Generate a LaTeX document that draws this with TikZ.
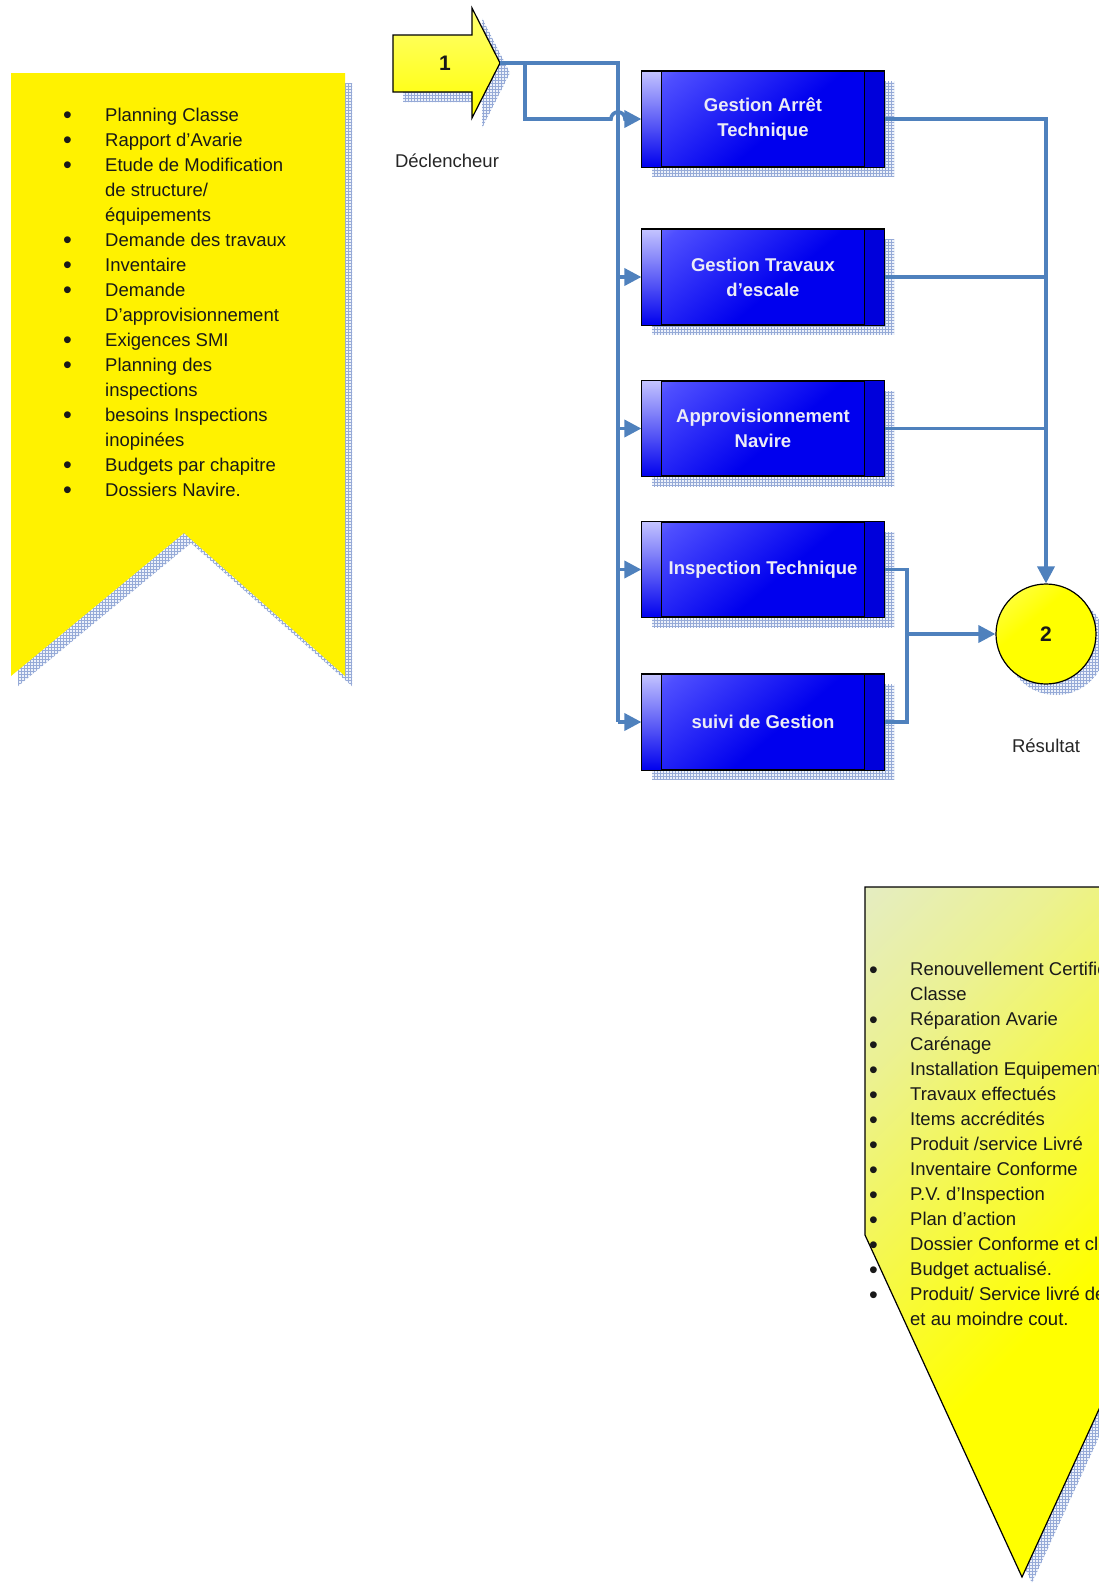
\documentclass[tikz,border=0pt]{standalone}
\usepackage{fontspec}
\setmainfont{Liberation Sans}
\usetikzlibrary{arrows.meta,patterns,calc}

\definecolor{flowblue}{RGB}{79,129,189}
\definecolor{hatchline}{RGB}{150,170,215}
\definecolor{hatchbg}{RGB}{236,241,250}
\definecolor{boxblue}{RGB}{0,0,238}
\definecolor{boxlight}{RGB}{196,196,255}
\definecolor{paleblue}{RGB}{222,232,244}
\definecolor{boxtext}{RGB}{236,236,246}

\pgfdeclareverticalshading{boxshade}{100bp}{color(0bp)=(boxblue); color(45bp)=(boxblue); color(78bp)=(blue!60!boxlight); color(100bp)=(boxlight)}
\pgfdeclareverticalshading{outshade}{100bp}{color(0bp)=(yellow); color(42bp)=(yellow); color(72bp)=(yellow!40!paleblue); color(100bp)=(paleblue)}
\pgfdeclareverticalshading{ballshade}{100bp}{color(0bp)=(yellow); color(60bp)=(yellow); color(100bp)=(yellow!45!white)}

\newcommand\diagfont{\fontsize{18.5}{25}\selectfont}
\newcommand\bigdigit{\fontsize{21}{25}\selectfont\bfseries}
\newcommand\dotmark{\raisebox{-2.6pt}{\fontsize{25}{25}\selectfont\textbullet}}

\tikzset{
  conn/.style={draw=flowblue, line width=3.6pt},
  flow/.style={conn, -{Triangle[length=17pt,width=17pt]}},
  hatched/.style={preaction={fill=hatchbg}, pattern=grid, pattern color=hatchline},
  procbox/.style={rectangle, draw=black, line width=1.2pt, minimum width=242pt,
    minimum height=95pt, inner sep=0pt, shading=boxshade, shading angle=40,
    text=boxtext, font=\diagfont\bfseries, align=center},
  caption/.style={font=\diagfont, text=black!85, inner sep=0pt},
  listbox/.style={anchor=north west, inner sep=0pt, font=\diagfont, text=black!90},
}

\begin{document}
\begin{tikzpicture}[x=1pt,y=-1pt]
  \path[use as bounding box] (0,0) rectangle (1099,1583);
  \clip (0,0) rectangle (1099,1583);
  \fill[white] (0,0) rectangle (1099,1583);

  % input banner with notched bottom
  \fill[hatched] (18,83) -- (352,83) -- (352,686) -- (191,543) -- (18,686) -- cycle;
  \fill[yellow] (11,73) -- (345,73) -- (345,676) -- (184,533) -- (11,676) -- cycle;
  \node[listbox] (inputs) at (63,103.5) {%
    \begin{tabular}{@{}p{42pt}@{}l@{}}
      \dotmark & Planning Classe\\
      \dotmark & Rapport d’Avarie\\
      \dotmark & Etude de Modification\\
               & de structure/\\
               & équipements\\
      \dotmark & Demande des travaux\\
      \dotmark & Inventaire\\
      \dotmark & Demande\\
               & D’approvisionnement\\
      \dotmark & Exigences SMI\\
      \dotmark & Planning des\\
               & inspections\\
      \dotmark & besoins Inspections\\
               & inopinées\\
      \dotmark & Budgets par chapitre\\
      \dotmark & Dossiers Navire.
    \end{tabular}};

  % trigger arrow
  \fill[hatched] (403,45) -- (482,45) -- (482,18) -- (510,73) -- (482,128) -- (482,102) -- (403,102) -- cycle;
  \shade[top color=yellow!55!white, bottom color=yellow, draw=black, line width=1.2pt]
    (393,35) -- (472,35) -- (472,8) -- (500,63) -- (472,118) -- (472,92) -- (393,92) -- cycle;
  \node[inner sep=0pt, text=black!90] (trig) at (445,63) {\bigdigit 1};
  \coordinate (a1tip) at (500,63);
  \node[caption] (trigcap) at (447,161) {Déclencheur};

  % process boxes: shadows first
  \foreach \cy in {119,277,428.5,569.5,722}
    \fill[hatched] (652,\cy-37.5) rectangle (894,\cy+57.5);

  \node[procbox] (b1) at (763,119)   {Gestion Arrêt\\Technique};
  \node[procbox] (b2) at (763,277)   {Gestion Travaux\\d’escale};
  \node[procbox] (b3) at (763,428.5) {Approvisionnement\\Navire};
  \node[procbox] (b4) at (763,569.5) {Inspection Technique};
  \node[procbox] (b5) at (763,722)   {suivi de Gestion};

  \foreach \n in {b1,b2,b3,b4,b5} {
    \shade[top color=boxlight, bottom color=boxblue] (\n.north west) rectangle ($(\n.south west)+(20,0)$);
    \fill[boxblue!92!black] ($(\n.north east)+(-20,0)$) rectangle (\n.south east);
    \draw[line width=1pt] ($(\n.north west)+(20,0)$) -- ($(\n.south west)+(20,0)$);
    \draw[line width=1pt] ($(\n.north east)+(-20,0)$) -- ($(\n.south east)+(-20,0)$);
    \draw[line width=1.2pt] (\n.north west) rectangle (\n.south east);
  }

  % result circle
  \fill[hatched] (1056,645) circle (50);
  \node[circle, draw=black, line width=1.2pt, minimum size=100pt, inner sep=0pt,
        shading=ballshade, shading angle=40, text=black!90] (res) at (1046,634) {\bigdigit 2};
  \node[caption] (rescap) at (1046,746) {Résultat};

  % connectors from the trigger to the processes
  \coordinate (split) at (525,63);
  \coordinate (bus) at (618,63);
  \draw[conn] (a1tip) -- (bus) -- (bus |- b5.west);
  \foreach \n in {b2,b3,b4,b5}
    \draw[flow] (bus |- \n.west) -- (\n.west);
  \draw[flow] (split) |- ($(bus |- b1.west)+(-7,0)$) arc[start angle=180, end angle=360, radius=7] -- (b1.west);

  % connectors from the processes to the result
  \draw[flow] (b1.east) -| (res.north);
  \draw[conn] (b2.east) -- (b2.east -| res.north);
  \draw[conn] (b3.east) -- (b3.east -| res.north);
  \coordinate (mbus) at (907,0);
  \draw[conn] (b4.east) -- (mbus |- b4.east) -- (mbus |- b5.east) -- (b5.east);
  \draw[flow] (mbus |- res.west) -- (res.west);

  % output pennant
  \fill[hatched] (875,893) -- (1189,893) -- (1189,1241) -- (1032,1583) -- (875,1241) -- cycle;
  \shade[shading=outshade, shading angle=45, draw=black, line width=1.2pt]
    (865,887) -- (1179,887) -- (1179,1235) -- (1022,1577) -- (865,1235) -- cycle;
  \node[listbox] (outputs) at (869,958) {%
    \begin{tabular}{@{}p{41pt}@{}l@{}}
      \dotmark & Renouvellement Certific\\
               & Classe\\
      \dotmark & Réparation Avarie\\
      \dotmark & Carénage\\
      \dotmark & Installation Equipement\\
      \dotmark & Travaux effectués\\
      \dotmark & Items accrédités\\
      \dotmark & Produit /service Livré\\
      \dotmark & Inventaire Conforme\\
      \dotmark & P.V. d’Inspection\\
      \dotmark & Plan d’action\\
      \dotmark & Dossier Conforme et cl\\
      \dotmark & Budget actualisé.\\
      \dotmark & Produit/ Service livré de\\
               & et au moindre cout.
    \end{tabular}};
\end{tikzpicture}
\end{document}
